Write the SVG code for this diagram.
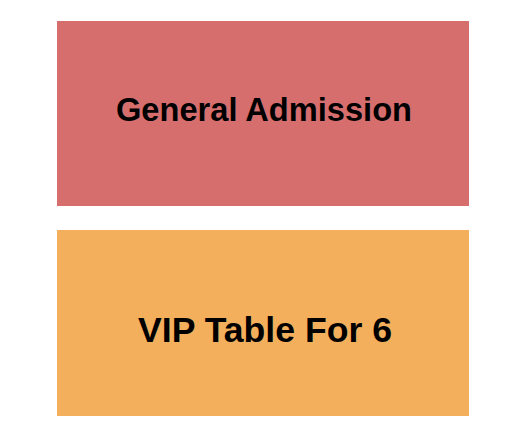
<svg xmlns="http://www.w3.org/2000/svg" width="525" height="444" viewBox="0 0 525 444">
<style>
.lbl{font-family:"Liberation Sans",Arial,sans-serif;font-weight:bold;fill:#000;text-anchor:middle}
</style>
<rect width="525" height="444" fill="#fff"/>
<g id="general-admission">
<rect x="57" y="21" width="412" height="185" fill="#D76E6E"/>
<text class="lbl" x="264" y="121" font-size="34" textLength="296" lengthAdjust="spacingAndGlyphs">General Admission</text>
</g>
<g id="vip-table">
<rect x="57" y="230" width="412" height="186" fill="#F3AF5B"/>
<text class="lbl" x="265" y="342" font-size="35.5" textLength="254" lengthAdjust="spacingAndGlyphs">VIP Table For 6</text>
</g>
<g id="connectors"/>
</svg>
